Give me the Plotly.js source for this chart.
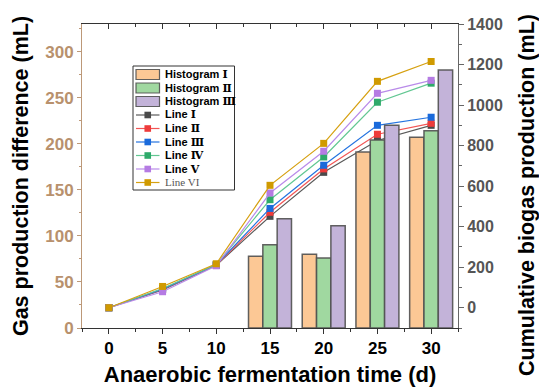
<!DOCTYPE html>
<html>
<head>
<meta charset="utf-8">
<script src="https://cdn.plot.ly/plotly-3.0.1.min.js"></script>
<style>
  html, body { margin: 0; padding: 0; background: #fff; }
  #chart { width: 539px; height: 387px; }
</style>
</head>
<body>
<div id="chart"></div>
<script>
// Fermentation days
const days = [0, 5, 10, 15, 20, 25, 30];
const barDays = [15, 20, 25, 30];

// Gas production difference (mL), left axis
const histI   = [78, 80, 191, 207];
const histII  = [90.5, 76, 204, 214];
const histIII = [118.5, 111, 220, 280];

// Cumulative biogas production (mL), right axis
const lineI   = [0, 88, 210, 451, 668, 825, 900];
const lineII  = [0, 90, 211, 471, 685, 856, 910];
const lineIII = [0, 92, 212, 490, 703, 900, 940];
const lineIV  = [0, 95, 213, 533, 744, 1014, 1108];
const lineV   = [0, 79, 207, 566, 772, 1058, 1122];
const lineVI  = [0, 105, 217, 604, 811, 1117, 1215];

const num = s => `<span style="font-family:DejaVu Serif">${s}</span>`;
const barNames  = ['Histogram ' + num('Ⅰ'), 'Histogram ' + num('Ⅱ'), 'Histogram ' + num('Ⅲ')];
const lineNames = ['Line ' + num('Ⅰ'), 'Line ' + num('Ⅱ'), 'Line ' + num('Ⅲ'),
                   'Line ' + num('Ⅳ'), 'Line ' + num('Ⅴ'),
                   '<span style="font-family:Liberation Serif;font-weight:normal;color:#555">Line VI</span>'];

const barSeries  = [histI, histII, histIII];
const lineSeries = [lineI, lineII, lineIII, lineIV, lineV, lineVI];

const barFill = ['#FCC895', '#A0D8A0', '#C3B3D9'];
const barEdge = 'rgba(80,80,80,0.9)';
const lineColors   = ['#5a5a5a', '#F25555', '#2574E0', '#62C792', '#B98BE9', '#D6A010'];
const markerColors = ['#4a4a4a', '#EE3B3B', '#1A6ADB', '#2EAA6A', '#B57BE3', '#D09A00'];

// page geometry
const W = 539, H = 387;
const M = { l: 82, r: 81, t: 24, b: 59 };
const pw = W - M.l - M.r, ph = H - M.t - M.b;
const px = x => (x - M.l) / pw;
const py = y => (H - M.b - y) / ph;

const traces = [];
// cumulative lines (right axis) – drawn first so the bars sit on top
lineSeries.forEach((ys, i) => traces.push({
  type: 'scatter', mode: 'lines+markers',
  x: days, y: ys, xaxis: 'x', yaxis: 'y',
  name: lineNames[i],
  line: { color: lineColors[i], width: 1.2 },
  marker: { symbol: 'square', size: 7, color: markerColors[i], line: { width: 0 } },
  showlegend: false, hoverinfo: 'skip'
}));
// difference histograms (left axis)
barSeries.forEach((ys, i) => traces.push({
  type: 'bar', x: barDays, y: ys, xaxis: 'x', yaxis: 'y2',
  name: barNames[i],
  marker: { color: barFill[i], line: { color: barEdge, width: 1.5 } },
  showlegend: false, hoverinfo: 'skip'
}));
// top frame axis
traces.push({ type: 'scatter', mode: 'markers', x: [null], y: [null], xaxis: 'x2', yaxis: 'y',
  showlegend: false, hoverinfo: 'skip' });

// hand-built legend box
const shapes = [], annotations = [];
const lx0 = 133, lx1 = 234.5, ly0 = 66, ly1 = 190;
shapes.push({ type: 'rect', xref: 'paper', yref: 'paper',
  x0: px(lx0), x1: px(lx1), y0: py(ly1), y1: py(ly0),
  line: { color: '#333', width: 1 }, fillcolor: '#fff', layer: 'above' });
const rowY = i => 74.5 + 13.5 * i;
const sw0 = 136, sw1 = 159.5, swc = (sw0 + sw1) / 2, textX = 162.5;
barNames.forEach((n, i) => {
  const y = rowY(i);
  shapes.push({ type: 'rect', xref: 'paper', yref: 'paper',
    x0: px(sw0), x1: px(sw1), y0: py(y + 5), y1: py(y - 5),
    line: { color: barEdge, width: 1.2 }, fillcolor: barFill[i], layer: 'above' });
  annotations.push({ xref: 'paper', yref: 'paper', x: px(textX), y: py(y),
    xanchor: 'left', yanchor: 'middle', showarrow: false, text: n,
    font: { size: 11, weight: 'bold', color: '#000' } });
});
lineNames.forEach((n, i) => {
  const y = rowY(i + 3);
  shapes.push({ type: 'line', xref: 'paper', yref: 'paper',
    x0: px(sw0), x1: px(sw1), y0: py(y), y1: py(y),
    line: { color: lineColors[i], width: 1.2 }, layer: 'above' });
  shapes.push({ type: 'rect', xref: 'paper', yref: 'paper',
    x0: px(swc - 3.3), x1: px(swc + 3.3), y0: py(y + 3.3), y1: py(y - 3.3),
    line: { width: 0 }, fillcolor: markerColors[i], layer: 'above' });
  annotations.push({ xref: 'paper', yref: 'paper', x: px(textX), y: py(y),
    xanchor: 'left', yanchor: 'middle', showarrow: false, text: n,
    font: { size: 11, weight: 'bold', color: '#000' } });
});

// right axis title
annotations.push({ xref: 'paper', yref: 'paper', x: px(527), y: py(195),
  xanchor: 'center', yanchor: 'middle', textangle: -90, showarrow: false,
  text: 'Cumulative biogas production (mL)',
  font: { size: 21.5, weight: 'bold', color: '#000' } });

const tan = '#BC9878', grey = '#666', dark = '#333';

const layout = {
  width: W, height: H,
  margin: { l: M.l, r: M.r, t: M.t, b: M.b, pad: 0 },
  paper_bgcolor: '#fff', plot_bgcolor: '#fff',
  font: { family: 'Liberation Sans, Arial, sans-serif', color: '#000' },
  showlegend: false,
  barmode: 'group', bargap: 0.2, bargroupgap: 0,
  xaxis: {
    range: [-2.5, 32.5], tick0: 0, dtick: 5,
    ticks: 'outside', ticklen: 5, tickwidth: 1, tickcolor: dark,
    minor: { dtick: 2.5, ticks: 'outside', ticklen: 3, tickcolor: dark, showgrid: false },
    showline: true, linecolor: dark, linewidth: 1,
    showgrid: false, zeroline: false, automargin: false,
    tickfont: { size: 17, weight: 'bold', color: '#000' },
    title: { text: 'Anaerobic fermentation time (d)', standoff: 14,
             font: { size: 22, weight: 'bold', color: '#000' } }
  },
  xaxis2: {
    overlaying: 'x', side: 'top', anchor: 'y',
    range: [-2.5, 32.5], tick0: 0, dtick: 5,
    ticks: 'inside', ticklen: 5, tickwidth: 1, tickcolor: dark,
    minor: { dtick: 2.5, ticks: 'inside', ticklen: 3, tickcolor: dark, showgrid: false },
    showticklabels: false, showline: true, linecolor: dark, linewidth: 1,
    showgrid: false, zeroline: false
  },
  yaxis: {
    side: 'right', range: [-100, 1400], tick0: 0, dtick: 200,
    ticks: 'outside', ticklen: 5, tickwidth: 1, tickcolor: grey,
    minor: { dtick: 100, ticks: 'outside', ticklen: 3, tickcolor: grey, showgrid: false },
    showline: true, linecolor: grey, linewidth: 1,
    showgrid: false, zeroline: false, automargin: false,
    tickfont: { size: 16, weight: 'bold', color: '#555' }
  },
  yaxis2: {
    side: 'left', overlaying: 'y', range: [0, 330], tick0: 0, dtick: 50,
    ticks: 'outside', ticklen: 4, tickwidth: 1, tickcolor: tan,
    minor: { dtick: 25, ticks: 'outside', ticklen: 2.5, tickcolor: tan, showgrid: false },
    showline: true, linecolor: tan, linewidth: 1,
    showgrid: false, zeroline: false, automargin: false,
    tickfont: { size: 17, weight: 'bold', color: '#B8916D' },
    title: { text: 'Gas production difference (mL)', standoff: 10,
             font: { size: 21.5, weight: 'bold', color: '#000' } }
  },
  shapes: shapes,
  annotations: annotations
};

Plotly.newPlot('chart', traces, layout, { staticPlot: true, displayModeBar: false });
</script>
</body>
</html>
